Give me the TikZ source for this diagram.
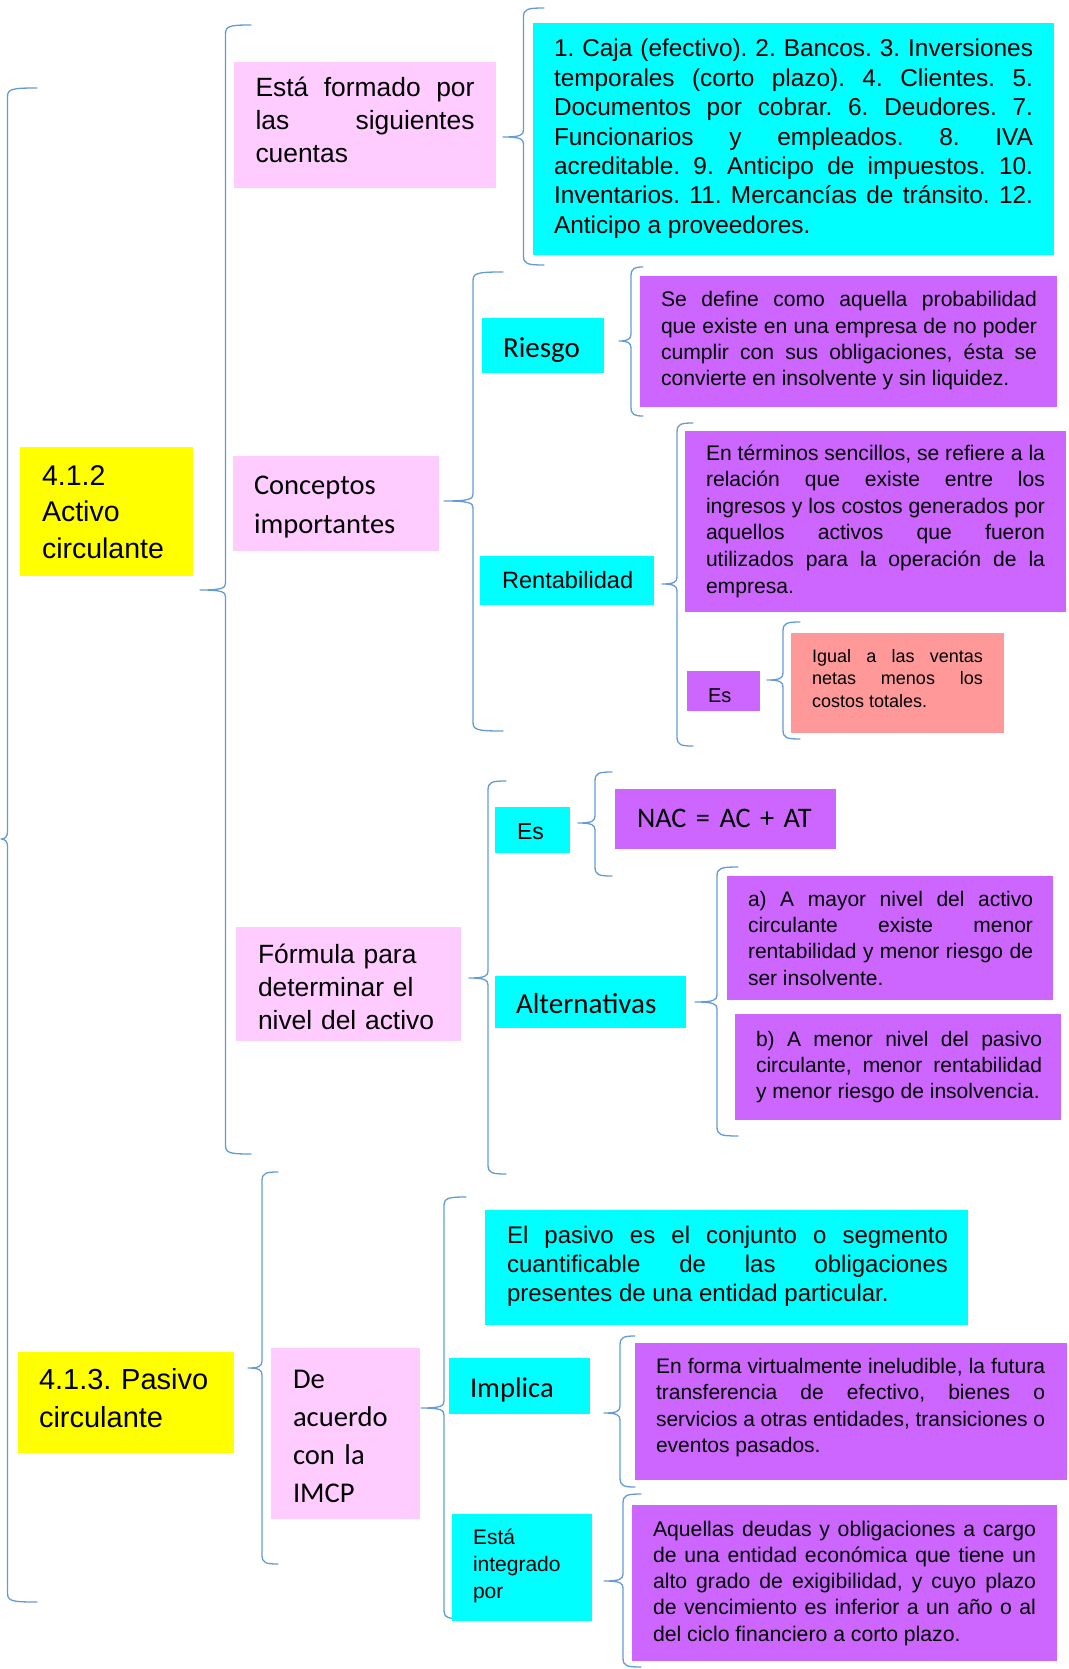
\documentclass[tikz,border=0pt]{standalone}
\usepackage{fontspec}
\setmainfont{Liberation Sans}
\newfontfamily\calibri{Carlito}
\hyphenpenalty=10000
\exhyphenpenalty=10000
\frenchspacing
\definecolor{brc}{RGB}{100,155,215}
\definecolor{cy}{RGB}{0,255,255}
\definecolor{pk}{RGB}{255,204,255}
\definecolor{pu}{RGB}{204,102,255}
\definecolor{ye}{RGB}{255,255,0}
\definecolor{sa}{RGB}{255,153,153}
% brace: #1 xline, #2 xend, #3 xtip, #4 ytop, #5 ytip, #6 ybot
\newcommand\cbr[6]{%
  \draw[brace] (#2,#4) .. controls (#1+4,#4) and (#1,#4+1) .. (#1,#4+9)
    -- (#1,#5-7) .. controls (#1,#5-2) and (#1-3,#5) .. (#3,#5)
    .. controls (#1-3,#5) and (#1,#5+2) .. (#1,#5+7)
    -- (#1,#6-9) .. controls (#1,#6-1) and (#1+4,#6) .. (#2,#6);}
% box: name, colour, x1, y1, x2, y2
\newcommand\bx[6]{%
  \node[boxst, fill=#2, minimum width={#5-#3}, minimum height={#6-#4}] (#1) at ({(#3+#5)/2},{(#4+#6)/2}) {};}
\begin{document}
\begin{tikzpicture}[x=1pt,y=-1pt,
  brace/.style={draw=brc, line width=1.3pt, line cap=round, line join=round},
  boxst/.style={draw=none, inner sep=0pt, outer sep=0pt},
  tx/.style={anchor=base west, inner sep=0pt, outer sep=0pt}]
\useasboundingbox (0,0) rectangle (1068,1669);

% braces
\cbr{7.5}{37}{1}{88}{839}{1602}
\cbr{225.5}{251}{200}{25}{590}{1154}
\cbr{523.5}{544}{503}{8}{137}{265}
\cbr{473}{503}{444}{272}{501}{731}
\cbr{631}{643}{619}{267}{341}{416}
\cbr{677}{693}{662}{423}{584}{746}
\cbr{783}{800}{767}{622}{680}{739}
\cbr{488}{506}{469}{781}{978}{1174}
\cbr{262}{278}{248}{1172}{1368}{1564}
\cbr{595}{612}{578}{772}{823}{876}
\cbr{717}{738}{695}{867}{1002}{1136}
\cbr{444}{466}{421}{1197}{1408}{1619}
\cbr{620}{635}{604}{1336}{1413}{1487}
\cbr{623}{641}{604}{1494}{1581}{1667}

% boxes
\bx{activo}{ye}{20}{447}{193}{576}
\bx{formado}{pk}{234}{62}{496}{188}
\bx{cuentas}{cy}{533}{23}{1054}{255}
\bx{conceptos}{pk}{233}{456}{439}{551}
\bx{riesgo}{cy}{482}{318}{604}{373}
\bx{riesgodef}{pu}{640}{276}{1057}{407}
\bx{rentab}{cy}{480}{556}{654}{605}
\bx{rentabdef}{pu}{685}{431}{1066}{612}
\bx{es1}{pu}{687}{671}{760}{711}
\bx{igual}{sa}{791}{633}{1004}{733}
\bx{formula}{pk}{236}{927}{461}{1041}
\bx{es2}{cy}{495}{807}{570}{853}
\bx{nac}{pu}{615}{789}{836}{849}
\bx{altern}{cy}{495}{976}{686}{1028}
\bx{alta}{pu}{727}{876}{1053}{1000}
\bx{altb}{pu}{735}{1014}{1061}{1120}
\bx{pasivo}{ye}{18}{1352}{234}{1453}
\bx{imcp}{pk}{271}{1348}{420}{1519}
\bx{elpasivo}{cy}{485}{1210}{968}{1325}
\bx{implica}{cy}{449}{1358}{590}{1414}
\bx{integrado}{cy}{452}{1514}{592}{1621}
\bx{implicadef}{pu}{635}{1343}{1067}{1480}
\bx{integradodef}{pu}{632}{1505}{1057}{1661}

% texts
\node[tx, text width=160pt, align=left, font={\fontsize{28.5}{36.5}\selectfont}] (t-activo) at (42,485) {4.1.2\\Activo\\circulante};
\node[tx, text width=219pt, align=justify, font={\fontsize{26.4}{33}\selectfont}] (t-formado) at (255.5,97) {Está formado por\linebreak las siguientes\linebreak cuentas};
\node[tx, text width=479pt, align=justify, font={\fontsize{24.4}{29.4}\selectfont}] (t-cuentas) at (554,57) {1. Caja (efectivo). 2. Bancos. 3. Inversiones\linebreak temporales (corto plazo). 4. Clientes. 5.\linebreak Documentos por cobrar. 6. Deudores. 7.\linebreak Funcionarios y empleados. 8. IVA\linebreak acreditable. 9. Anticipo de impuestos. 10.\linebreak Inventarios. 11. Mercancías de tránsito. 12.\linebreak Anticipo a proveedores.};
\node[tx, text width=180pt, align=left, font={\calibri\fontsize{28.5}{39}\selectfont}] (t-conceptos) at (254,494) {Conceptos\\importantes};
\node[tx, text width=100pt, align=left, font={\calibri\fontsize{29}{35}\selectfont}] (t-riesgo) at (503,357) {Riesgo};
\node[tx, text width=376pt, align=justify, font={\fontsize{21.1}{26}\selectfont}] (t-riesgodef) at (661,307) {Se define como aquella probabilidad\linebreak que existe en una empresa de no poder\linebreak cumplir con sus obligaciones, ésta se\linebreak convierte en insolvente y sin liquidez.};
\node[tx, text width=150pt, align=left, font={\fontsize{23.6}{28}\selectfont}] (t-rentab) at (502,588) {Rentabilidad};
\node[tx, text width=339pt, align=justify, font={\fontsize{21.1}{26.6}\selectfont}] (t-rentabdef) at (706,460) {En términos sencillos, se refiere a la\linebreak relación que existe entre los\linebreak ingresos y los costos generados por\linebreak aquellos activos que fueron\linebreak utilizados para la operación de la\linebreak empresa.};
\node[tx, text width=50pt, align=left, font={\fontsize{20}{24}\selectfont}] (t-es1) at (708,702) {Es};
\node[tx, text width=171pt, align=justify, font={\fontsize{18}{22.5}\selectfont}] (t-igual) at (812,662) {Igual a las ventas\linebreak netas menos los\linebreak costos totales.};
\node[tx, text width=200pt, align=left, font={\fontsize{26.4}{33}\selectfont}] (t-formula) at (258,963) {Fórmula para\\determinar el\\nivel del activo};
\node[tx, text width=50pt, align=left, font={\fontsize{23}{28}\selectfont}] (t-es2) at (517,839) {Es};
\node[tx, text width=200pt, align=left, font={\calibri\fontsize{28.3}{34}\selectfont}] (t-nac) at (637,827) {NAC = AC + AT};
\node[tx, text width=170pt, align=left, font={\calibri\fontsize{29}{35}\selectfont}] (t-altern) at (516,1013) {Alternativas};
\node[tx, text width=285pt, align=justify, font={\fontsize{21}{26.4}\selectfont}] (t-alta) at (748,906) {a) A mayor nivel del activo\linebreak circulante existe menor\linebreak rentabilidad y menor riesgo de\linebreak ser insolvente.};
\node[tx, text width=286pt, align=justify, font={\fontsize{21}{26}\selectfont}] (t-altb) at (756,1046) {b) A menor nivel del pasivo\linebreak circulante, menor rentabilidad\linebreak y menor riesgo de insolvencia.};
\node[tx, text width=200pt, align=left, font={\fontsize{29}{38}\selectfont}] (t-pasivo) at (39,1389) {4.1.3. Pasivo\\circulante};
\node[tx, text width=125pt, align=left, font={\calibri\fontsize{28.6}{38}\selectfont}] (t-imcp) at (293,1388) {De\\acuerdo\\con la\\IMCP};
\node[tx, text width=441pt, align=justify, font={\fontsize{24}{29.3}\selectfont}] (t-elpasivo) at (507,1243) {El pasivo es el conjunto o segmento\linebreak cuantificable de las obligaciones\linebreak presentes de una entidad particular.};
\node[tx, text width=110pt, align=left, font={\calibri\fontsize{28.6}{34}\selectfont}] (t-implica) at (470,1397) {Implica};
\node[tx, text width=115pt, align=left, font={\fontsize{21}{27}\selectfont}] (t-integrado) at (473,1544) {Está\\integrado\\por};
\node[tx, text width=389pt, align=justify, font={\fontsize{21}{26.6}\selectfont}] (t-implicadef) at (656,1373) {En forma virtualmente ineludible, la futura\linebreak transferencia de efectivo, bienes o\linebreak servicios a otras entidades, transiciones o\linebreak eventos pasados.};
\node[tx, text width=383pt, align=justify, font={\fontsize{21.2}{26.3}\selectfont}] (t-integradodef) at (653,1536) {Aquellas deudas y obligaciones a cargo\linebreak de una entidad económica que tiene un\linebreak alto grado de exigibilidad, y cuyo plazo\linebreak de vencimiento es inferior a un año o al\linebreak del ciclo financiero a corto plazo.};
\end{tikzpicture}
\end{document}
